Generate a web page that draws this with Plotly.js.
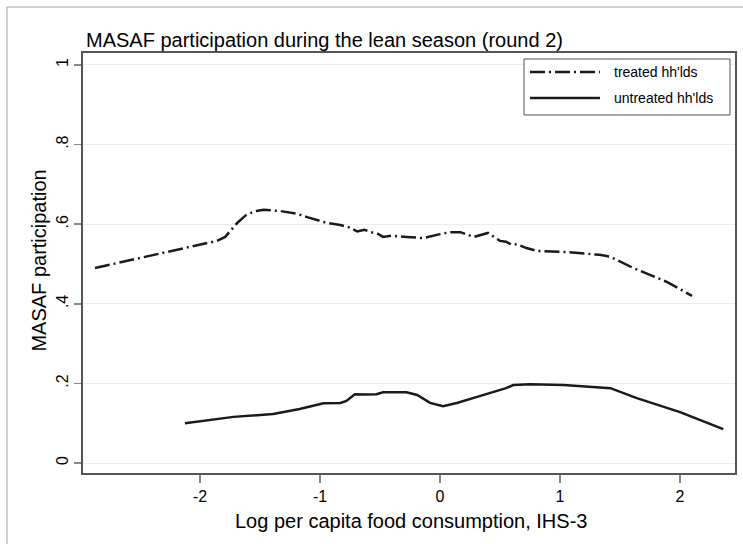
<!DOCTYPE html>
<html>
<head>
<meta charset="utf-8">
<script src="https://cdn.plot.ly/plotly-3.0.1.min.js"></script>
<style>html,body{margin:0;padding:0;background:#fff;}#chart{width:743px;height:544px;}</style>
</head>
<body>
<div id="chart"></div>
<script>
// Data
const treatedX = [-2.875, -1.86, -1.79, -1.74, -1.69, -1.62, -1.58, -1.52, -1.47, -1.33, -1.19, -1.10, -1.06, -0.94, -0.83, -0.76, -0.69, -0.63, -0.58, -0.52, -0.475, -0.40, -0.28, -0.14, 0.0, 0.083, 0.17, 0.28, 0.40, 0.50, 0.55, 0.60, 0.64, 0.72, 0.81, 1.06, 1.33, 1.42, 1.61, 1.89, 2.10];
const treatedY = [0.49, 0.558, 0.568, 0.585, 0.603, 0.622, 0.628, 0.634, 0.636, 0.633, 0.626, 0.617, 0.613, 0.603, 0.598, 0.592, 0.582, 0.586, 0.58, 0.576, 0.568, 0.571, 0.568, 0.565, 0.575, 0.58, 0.58, 0.568, 0.578, 0.558, 0.556, 0.548, 0.55, 0.54, 0.533, 0.53, 0.523, 0.518, 0.49, 0.455, 0.42];

const untreatedX = [-2.125, -1.72, -1.39, -1.17, -0.97, -0.83, -0.78, -0.75, -0.71, -0.62, -0.53, -0.475, -0.28, -0.19, -0.083, 0.025, 0.14, 0.33, 0.47, 0.55, 0.61, 0.75, 1.03, 1.42, 1.64, 2.0, 2.36];
const untreatedY = [0.10, 0.116, 0.123, 0.136, 0.15, 0.151, 0.156, 0.163, 0.173, 0.172, 0.173, 0.178, 0.178, 0.171, 0.151, 0.143, 0.151, 0.168, 0.181, 0.188, 0.196, 0.198, 0.196, 0.188, 0.163, 0.128, 0.085];

const seriesNames = ["treated hh'lds", "untreated hh'lds"];
const xTickVals = [-2, -1, 0, 1, 2];
const xTickText = ["-2", "-1", "0", "1", "2"];
const yTickVals = [0, 0.2, 0.4, 0.6, 0.8, 1];
const yTickText = ["0", ".2", ".4", ".6", ".8", "1"];

const FONT = "Liberation Sans, Arial, Helvetica, sans-serif";
const DASHDOT = "15px,4px,2px,4px";
const LINECOL = "#1a1a1a";

const traces = [
  {x: treatedX, y: treatedY, name: seriesNames[0], mode: "lines", type: "scatter",
   line: {color: LINECOL, width: 2.5, dash: DASHDOT}},
  {x: untreatedX, y: untreatedY, name: seriesNames[1], mode: "lines", type: "scatter",
   line: {color: LINECOL, width: 2.5}}
];

const layout = {
  width: 743, height: 544,
  margin: {l: 83, r: 8, t: 53, b: 71, pad: 0},
  paper_bgcolor: "#fff", plot_bgcolor: "#fff",
  showlegend: false,
  font: {family: FONT, color: "#000"},
  xaxis: {
    range: [-2.975, 2.458], tickvals: xTickVals, ticktext: xTickText,
    ticks: "outside", ticklen: 8, tickcolor: "#888", tickwidth: 1.5,
    tickfont: {size: 16, family: FONT, color: "#000"},
    showgrid: false, zeroline: false,
    showline: true, mirror: true, linecolor: "#555", linewidth: 2
  },
  yaxis: {
    range: [-0.025, 1.030], tickvals: yTickVals, ticktext: yTickText,
    ticks: "outside", ticklen: 7, tickcolor: "#888", tickwidth: 1.5,
    tickangle: -90, tickfont: {size: 16, family: FONT, color: "#000"},
    showgrid: true, gridcolor: "#e6eef0", gridwidth: 1, zeroline: false,
    showline: true, mirror: true, linecolor: "#555", linewidth: 2
  },
  shapes: [
    // outer graph frame
    {type: "rect", xref: "paper", yref: "paper", x0: -0.1166, x1: 1.05, y0: -0.2, y1: 1.1095,
     line: {color: "#a0a0a0", width: 1}, fillcolor: "rgba(0,0,0,0)", layer: "below"},
    // legend box
    {type: "rect", xref: "paper", yref: "paper", x0: 0.6764, x1: 0.9923, y0: 0.8524, y1: 0.9857,
     line: {color: "#555", width: 1}, fillcolor: "#fff"},
    {type: "line", xref: "paper", yref: "paper", x0: 0.6856, x1: 0.7929, y0: 0.9548, y1: 0.9548,
     line: {color: LINECOL, width: 2.5, dash: DASHDOT}},
    {type: "line", xref: "paper", yref: "paper", x0: 0.6856, x1: 0.7929, y0: 0.8929, y1: 0.8929,
     line: {color: LINECOL, width: 2.5}}
  ],
  annotations: [
    {text: "MASAF participation during the lean season (round 2)", xref: "paper", yref: "paper",
     x: 0.002, y: 1.031, xanchor: "left", yanchor: "middle", showarrow: false,
     font: {size: 20, family: FONT, color: "#000"}},
    {text: "MASAF participation", xref: "paper", yref: "paper", x: -0.068, y: 0.505,
     xanchor: "center", yanchor: "middle", textangle: -90, showarrow: false,
     font: {size: 20, family: FONT, color: "#000"}},
    {text: "Log per capita food consumption, IHS-3", xref: "paper", yref: "paper",
     x: 0.503, y: -0.114, xanchor: "center", yanchor: "middle", showarrow: false,
     font: {size: 20, family: FONT, color: "#000"}},
    {text: seriesNames[0], xref: "paper", yref: "paper", x: 0.8113, y: 0.9548,
     xanchor: "left", yanchor: "middle", showarrow: false, font: {size: 14, family: FONT, color: "#000"}},
    {text: seriesNames[1], xref: "paper", yref: "paper", x: 0.8113, y: 0.8929,
     xanchor: "left", yanchor: "middle", showarrow: false, font: {size: 14, family: FONT, color: "#000"}}
  ]
};

Plotly.newPlot("chart", traces, layout, {displayModeBar: false, staticPlot: true});
</script>
</body>
</html>
